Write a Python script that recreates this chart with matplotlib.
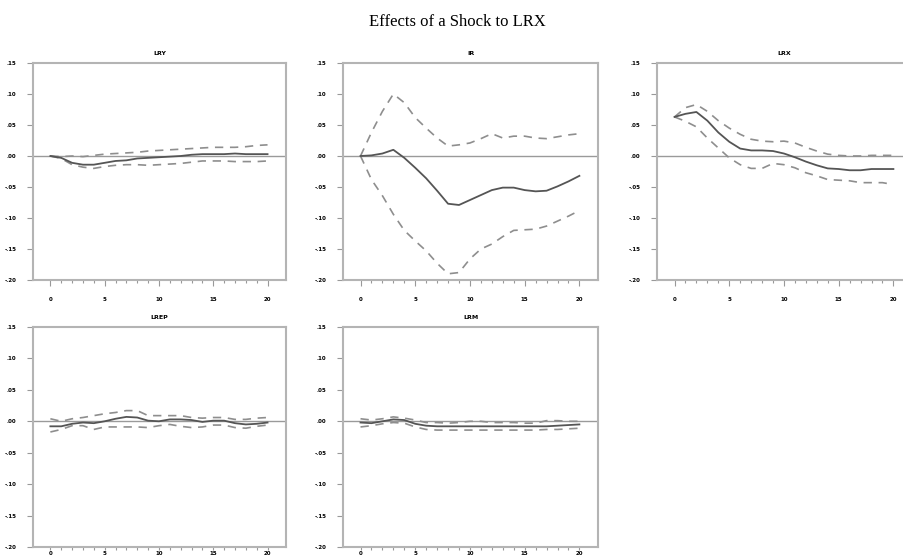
import numpy as np
import matplotlib
matplotlib.use("Agg")
import matplotlib.pyplot as plt

steps = np.arange(0, 21)

titles = ["LRY", "IR", "LRX", "LREP", "LRM"]

# response / upper band / lower band
lry = [0, -0.003, -0.011, -0.014, -0.014, -0.011, -0.008, -0.007, -0.004, -0.003, -0.002,
       -0.001, 0, 0.002, 0.003, 0.003, 0.003, 0.004, 0.003, 0.003, 0.003]
lry_hi = [0, -0.001, 0, -0.001, 0.001, 0.003, 0.004, 0.005, 0.006, 0.008, 0.009,
          0.010, 0.011, 0.012, 0.013, 0.014, 0.014, 0.014, 0.015, 0.017, 0.018]
lry_lo = [0, -0.004, -0.014, -0.018, -0.020, -0.017, -0.015, -0.014, -0.014, -0.015, -0.014,
          -0.013, -0.012, -0.010, -0.008, -0.008, -0.008, -0.009, -0.009, -0.009, -0.008]

ir = [0, 0.001, 0.004, 0.010, -0.003, -0.019, -0.036, -0.056, -0.077, -0.079, -0.071,
      -0.063, -0.055, -0.051, -0.051, -0.055, -0.057, -0.056, -0.049, -0.041, -0.032]
ir_hi = [0, 0.038, 0.072, 0.100, 0.086, 0.062, 0.045, 0.029, 0.016, 0.018, 0.021,
         0.028, 0.036, 0.029, 0.032, 0.032, 0.029, 0.028, 0.031, 0.034, 0.036]
ir_lo = [0, -0.038, -0.064, -0.094, -0.120, -0.137, -0.153, -0.173, -0.190, -0.188, -0.166,
         -0.150, -0.142, -0.130, -0.120, -0.119, -0.118, -0.113, -0.105, -0.097, -0.088]

lrx = [0.063, 0.068, 0.071, 0.057, 0.038, 0.023, 0.012, 0.009, 0.009, 0.008, 0.004,
       -0.002, -0.009, -0.015, -0.020, -0.021, -0.023, -0.023, -0.021, -0.021, -0.021]
lrx_hi = [0.063, 0.078, 0.083, 0.072, 0.057, 0.045, 0.035, 0.027, 0.024, 0.023, 0.024,
          0.021, 0.014, 0.008, 0.003, 0.001, 0, 0, 0.001, 0.001, 0.001]
lrx_lo = [0.063, 0.056, 0.047, 0.029, 0.013, -0.003, -0.014, -0.020, -0.020, -0.012, -0.014,
          -0.019, -0.027, -0.032, -0.038, -0.039, -0.040, -0.043, -0.043, -0.043, -0.046]

lrep = [-0.008, -0.008, -0.004, -0.002, -0.003, 0, 0.004, 0.007, 0.006, 0.001, 0,
        0.003, 0.003, 0.002, -0.001, 0.001, 0.001, -0.003, -0.005, -0.004, -0.002]
lrep_hi = [0.004, 0, 0.004, 0.006, 0.009, 0.012, 0.014, 0.017, 0.017, 0.009, 0.009,
           0.009, 0.009, 0.006, 0.005, 0.006, 0.006, 0.003, 0.003, 0.005, 0.006]
lrep_lo = [-0.017, -0.013, -0.007, -0.007, -0.013, -0.009, -0.009, -0.009, -0.009, -0.010, -0.007,
           -0.005, -0.008, -0.010, -0.009, -0.006, -0.006, -0.010, -0.011, -0.008, -0.006]

lrm = [-0.002, -0.003, 0, 0.003, 0.002, -0.004, -0.007, -0.008, -0.008, -0.008, -0.008,
       -0.008, -0.008, -0.008, -0.008, -0.008, -0.008, -0.008, -0.007, -0.006, -0.005]
lrm_hi = [0.004, 0.002, 0.004, 0.007, 0.005, 0.002, -0.002, -0.002, -0.003, -0.002, 0,
          0, -0.002, -0.002, -0.002, -0.003, -0.003, 0.001, 0.001, 0, 0]
lrm_lo = [-0.009, -0.007, -0.004, -0.002, -0.003, -0.009, -0.013, -0.014, -0.014, -0.014, -0.014,
          -0.014, -0.014, -0.014, -0.014, -0.014, -0.014, -0.013, -0.013, -0.012, -0.011]

resp = [lry, ir, lrx, lrep, lrm]
upper = [lry_hi, ir_hi, lrx_hi, lrep_hi, lrm_hi]
lower = [lry_lo, ir_lo, lrx_lo, lrep_lo, lrm_lo]

yticks = [0.15, 0.10, 0.05, 0.00, -0.05, -0.10, -0.15, -0.20]
ytick_labels = [".15", ".10", ".05", ".00", "-.05", "-.10", "-.15", "-.20"]
xticks = [0, 5, 10, 15, 20]

W, H = 904, 557
fig = plt.figure(figsize=(W / 100, H / 100), dpi=100)

# axes boxes in pixels: left, top, width, height
boxes = [(33, 63, 253, 217), (343, 63, 255, 217), (657, 63, 255, 217),
         (33, 327, 253, 220), (343, 327, 255, 220)]

frame_col = "#b4b4b4"
for i, (l, t, w, h) in enumerate(boxes):
    ax = fig.add_axes([l / W, 1 - (t + h) / H, w / W, h / H])
    ax.axhline(0, color="#9a9a9a", lw=1.0, zorder=1)
    ax.plot(steps, resp[i], color="#555555", lw=1.3, zorder=3)
    ax.plot(steps, upper[i], color="#8e8e8e", lw=1.2, ls=(0, (5, 4)), zorder=2)
    ax.plot(steps, lower[i], color="#8e8e8e", lw=1.2, ls=(0, (5, 4)), zorder=2)
    ax.set_xlim(-1.6, 21.7)
    ax.set_ylim(-0.20, 0.15)
    ax.set_yticks(yticks)
    ax.set_yticklabels(ytick_labels, fontsize=4, fontweight="bold")
    ax.set_xticks(xticks)
    ax.set_xticklabels([str(x) for x in xticks], fontsize=4, fontweight="bold")
    ax.set_xticks(steps, minor=True)
    ax.tick_params(axis="y", which="major", length=4, width=0.8, color="#999999", pad=8)
    bottom_row = i >= 3
    ax.tick_params(axis="x", which="major", length=2 if bottom_row else 4, width=0.8,
                   color="#999999", pad=0.8 if bottom_row else 8)
    ax.tick_params(axis="x", which="minor", length=2, width=0.8, color="#999999")
    for s in ax.spines.values():
        s.set_color(frame_col)
        s.set_linewidth(1.5)
    ax.set_title(titles[i], fontsize=4.5, fontweight="bold", pad=6)

fig.text(457 / W, 1 - 22 / H, "Effects of a Shock to LRX", ha="center", va="center",
         fontsize=12, family="Liberation Serif")

fig.savefig("out.png", dpi=100)
